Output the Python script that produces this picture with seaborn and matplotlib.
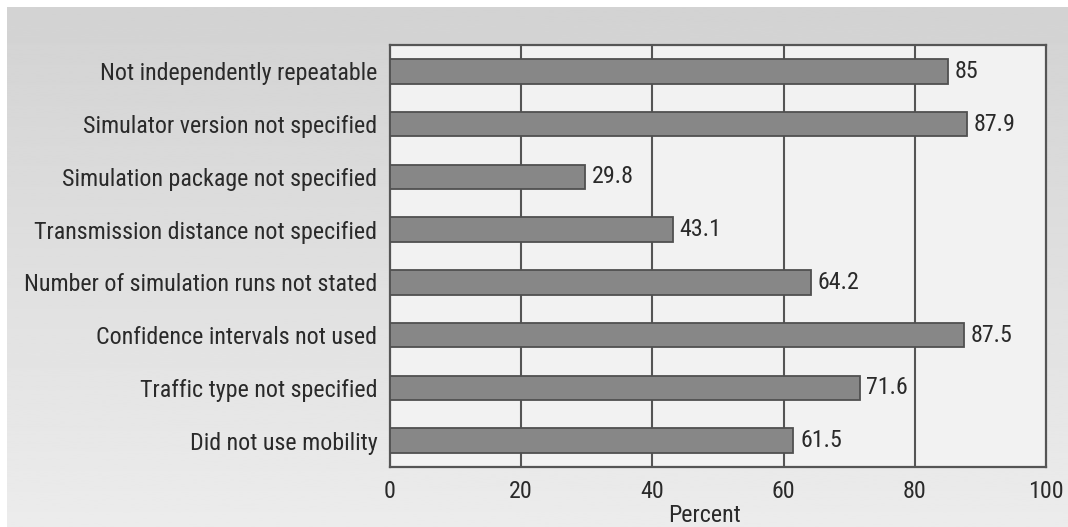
import numpy as np
import pandas as pd
import matplotlib
matplotlib.use("Agg")
import matplotlib.pyplot as plt
import matplotlib.font_manager as fm
import seaborn as sns

categories = [
    "Not independently repeatable",
    "Simulator version not specified",
    "Simulation package not specified",
    "Transmission distance not specified",
    "Number of simulation runs not stated",
    "Confidence intervals not used",
    "Traffic type not specified",
    "Did not use mobility",
]
percent = [85, 87.9, 29.8, 43.1, 64.2, 87.5, 71.6, 61.5]
value_labels = ["85", "87.9", "29.8", "43.1", "64.2", "87.5", "71.6", "61.5"]
x_ticks = [0, 20, 40, 60, 80, 100]

df = pd.DataFrame({"category": categories, "percent": percent})

sns.set_theme(style="white")

# pick a narrow sans family, falling back to the default
available = {f.name for f in fm.fontManager.ttflist}
preferred = ["Liberation Sans Narrow", "Roboto Condensed", "PT Sans Narrow", "Archivo Narrow",
             "IBM Plex Sans Condensed", "Fira Sans Condensed", "Barlow Semi Condensed",
             "Sofia Sans Semi Condensed", "DejaVu Sans Condensed"]
narrow = [f for f in preferred if f in available][:1]
plt.rcParams["font.family"] = narrow + ["DejaVu Sans"]
FS = 17.3
TXT = "#2a2a2a"

W, H = 1068, 527
fig = plt.figure(figsize=(W / 100, H / 100), dpi=100)
fig.patch.set_facecolor("white")

# soft vertical gradient behind the chart, leaving a thin white margin top/left
bg = fig.add_axes([7 / W, 0, 1 - 7 / W, 1 - 7 / H], zorder=-10)
grad = np.linspace(0.825, 0.925, 256).reshape(-1, 1)
bg.imshow(grad, aspect="auto", cmap="gray", vmin=0, vmax=1, extent=[0, 1, 0, 1])
bg.set_axis_off()

left, right, top, bottom = 390, 1046, 45, 467
ax = fig.add_axes([left / W, 1 - bottom / H, (right - left) / W, (bottom - top) / H])
ax.set_facecolor("#f2f2f2")

sns.barplot(data=df, x="percent", y="category", ax=ax, color="#878787",
            edgecolor="#505050", linewidth=1.3, width=0.46, saturation=1, zorder=3)

for i, (v, lab) in enumerate(zip(percent, value_labels)):
    ax.text(v + 1.0, i, lab, va="center", ha="left", fontsize=FS, color=TXT, zorder=4)

ax.set_xlim(0, 100)
ax.set_ylim(7.5, -0.5)
ax.set_xticks(x_ticks)
ax.set_xticklabels([str(t) for t in x_ticks])
for t in [20, 40, 60, 80]:
    ax.axvline(t, color="#555555", lw=1.5, zorder=1)

ax.tick_params(axis="both", length=0, labelsize=FS, colors=TXT)
ax.tick_params(axis="y", pad=9)
ax.tick_params(axis="x", pad=9)
ax.set_ylabel("")
ax.set_xlabel("Percent", fontsize=FS, color=TXT, labelpad=0)
ax.xaxis.set_label_coords((705 - left) / (right - left), -(527 - bottom) / (bottom - top))
ax.xaxis.label.set_va("bottom")
for s in ax.spines.values():
    s.set_visible(True)
    s.set_color("#555555")
    s.set_linewidth(1.6)

fig.savefig("out.png", dpi=100)
